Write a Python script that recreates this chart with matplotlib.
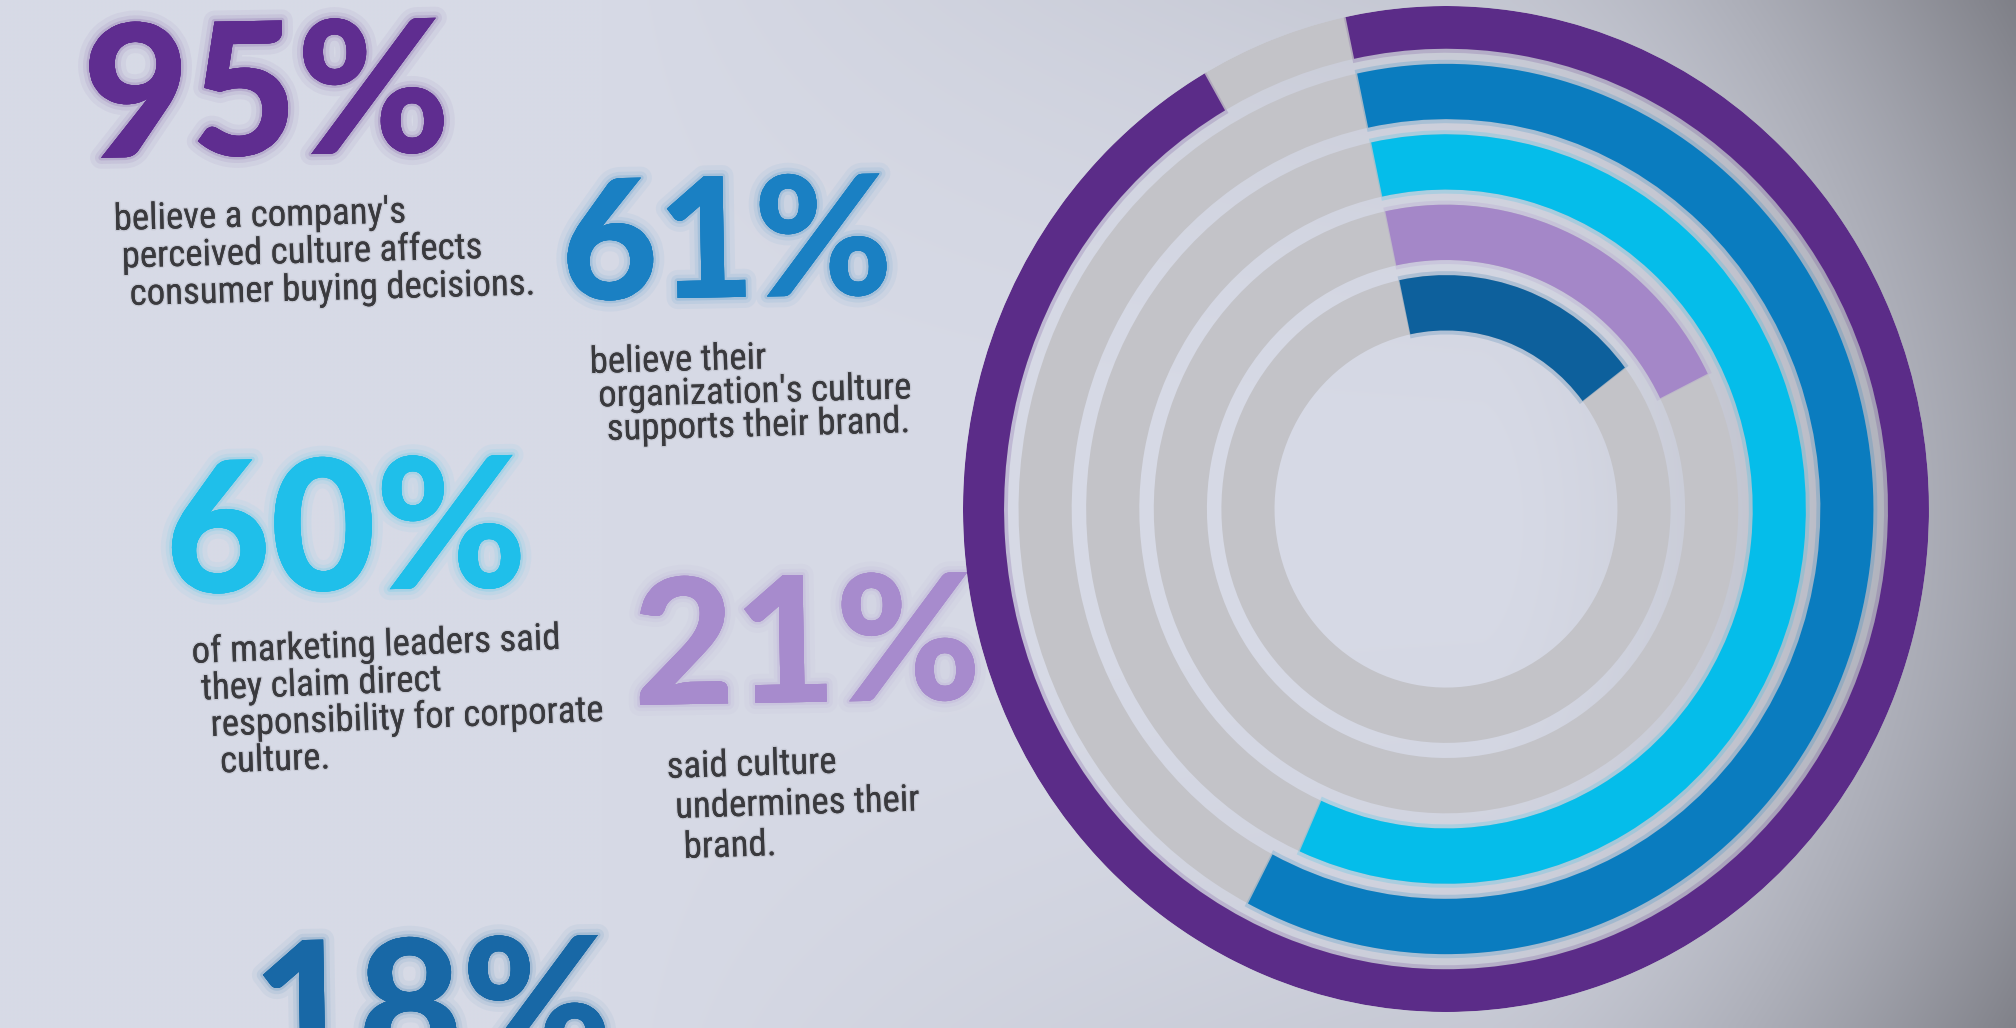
import numpy as np
import matplotlib
matplotlib.use("Agg")
import matplotlib.pyplot as plt
from matplotlib import font_manager as fm
import matplotlib.patheffects as pe

# survey results, outer ring first
values = [95, 61, 60, 21, 18]
ring_colors = ["#5b2c88", "#0a7cbf", "#05bdea", "#a487c8", "#0d609c"]
text_colors = ["#5f2d90", "#1a80c3", "#1fbfea", "#a78bcd", "#1868a6"]
captions = [
    ["believe a company's", "perceived culture affects", "consumer buying decisions."],
    ["believe their", "organization's culture", "supports their brand."],
    ["of marketing leaders said", "they claim direct", "responsibility for corporate", "culture."],
    ["said culture", "undermines their", "brand."],
    [],
]

W, H = 2016, 1028
track_color = "#c3c3c8"
caption_color = "#3a3a3e"

names = {f.name for f in fm.fontManager.ttflist}
body_family = next((n for n in ["Liberation Sans Narrow", "Roboto Condensed", "Lato", "Open Sans"]
                    if n in names), "DejaVu Sans")
num_family = "Lato" if "Lato" in names else "DejaVu Sans"

fig = plt.figure(figsize=(W / 100, H / 100), dpi=100)

# ===== background: light lavender, darkening toward the right edge =====
ax = fig.add_axes([0, 0, 1, 1])
yy, xx = np.mgrid[0:H:4, 0:W:4].astype(float)
tx = np.clip((xx - 1480) / 536.0, 0, 1) ** 1.6 * 0.48
ty = (np.abs(yy - 520) / 520.0) ** 2 * 0.24 * np.clip((xx - 600) / 1416.0, 0, 1)
t = np.clip(tx + ty, 0, 1)
c0 = np.array([215, 218, 230]) / 255.0
c1 = np.array([92, 92, 98]) / 255.0
bg = c0[None, None, :] * (1 - t[..., None]) + c1[None, None, :] * t[..., None]
ax.imshow(bg, extent=(0, W, H, 0), aspect="auto", interpolation="bilinear", zorder=0)
ax.set_xlim(0, W)
ax.set_ylim(H, 0)
ax.axis("off")

# ===== big numbers + captions =====
# number: (x, baseline y, size); caption: first line (x, baseline y), line step, x drift per line
layout = [
    dict(num=(84, 158, 133), cap=(114, 230), step=37.5, drift=8, rot=1.5),
    dict(num=(562, 300, 120), cap=(590, 373), step=33.5, drift=8.5, rot=1.5),
    dict(num=(166, 593, 131), cap=(192, 663), step=36.5, drift=9.5, rot=2.2),
    dict(num=(634, 705, 126), cap=(667, 778), step=40, drift=8.5, rot=1.8),
    dict(num=(254, 1072, 130), cap=(260, 1120), step=36, drift=8, rot=1.5),
]

for v, col, lines, lay in zip(values, text_colors, captions, layout):
    nx, ny, ns = lay["num"]
    glow = [pe.withStroke(linewidth=16, foreground=col, alpha=0.05),
            pe.withStroke(linewidth=9, foreground=col, alpha=0.08),
            pe.withStroke(linewidth=4, foreground=col, alpha=0.15),
            pe.Normal()]
    ax.text(nx, ny, f"{v}%", fontsize=ns, family=num_family, fontweight="black",
            color=col, ha="left", va="baseline", rotation=1, rotation_mode="anchor",
            zorder=3, path_effects=glow)
    cx, cy = lay["cap"]
    for i, line in enumerate(lines):
        ax.text(cx + i * lay["drift"], cy + i * lay["step"], line, fontsize=26.5,
                family=body_family, color=caption_color, ha="left", va="baseline",
                rotation=lay["rot"], rotation_mode="anchor", zorder=3,
                path_effects=[pe.withStroke(linewidth=2, foreground="#6a6a70", alpha=0.15),
                              pe.Normal()])

# ===== concentric progress rings =====
cx_px, cy_px = 1446, 509
rx_px, ry_px = 483, 503
pax = fig.add_axes([(cx_px - rx_px) / W, (H - cy_px - ry_px) / H, 2 * rx_px / W, 2 * ry_px / H],
                   projection="polar")
pax.set_aspect("auto")
pax.set_facecolor("none")
pax.set_theta_zero_location("N", offset=12)
pax.set_theta_direction(-1)
pax.set_ylim(0, 1.0)

ring_w = [0.085, 0.11, 0.11, 0.11, 0.11]
gap = 0.03
outer = 1.0
for i, (v, col) in enumerate(zip(values, ring_colors)):
    w = ring_w[i]
    inner = outer - w
    pax.bar(0, w, width=2 * np.pi, bottom=inner, align="edge", color=track_color,
            linewidth=0, zorder=1)
    # soft halo like the photo's blur
    pax.bar(-0.004, w + 0.016, width=2 * np.pi * v / 100 + 0.008, bottom=inner - 0.008,
            align="edge", color=col, alpha=0.18, linewidth=0, zorder=2)
    pax.bar(0, w, width=2 * np.pi * v / 100, bottom=inner, align="edge", color=col,
            linewidth=0, zorder=3)
    outer = inner - gap

pax.axis("off")

fig.savefig("out.png", dpi=100)
plt.close(fig)
